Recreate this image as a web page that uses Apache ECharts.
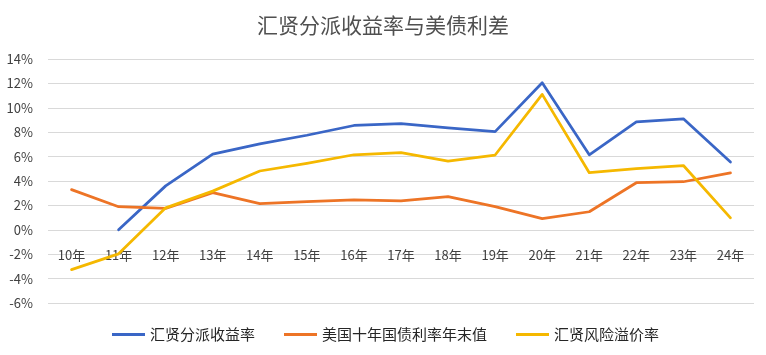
<!DOCTYPE html>
<html><head><meta charset="utf-8">
<script src="https://cdn.jsdelivr.net/npm/echarts@6/dist/echarts.min.js"></script>
<style>html,body{margin:0;padding:0;background:#fff}#c{width:766px;height:355px}</style>
</head><body><div id="c"></div>
<script>
const titleText = '汇贤分派收益率与美债利差';
const categories = ['10年','11年','12年','13年','14年','15年','16年','17年','18年','19年','20年','21年','22年','23年','24年'];
const seriesNames = ['汇贤分派收益率','美国十年国债利率年末值','汇贤风险溢价率'];
const yieldRate = [null, 0.0, 3.6, 6.2, 7.05, 7.75, 8.55, 8.7, 8.35, 8.05, 12.05, 6.15, 8.85, 9.1, 5.55];
const treasury = [3.29, 1.89, 1.75, 3.04, 2.14, 2.3, 2.45, 2.38, 2.72, 1.9, 0.91, 1.48, 3.86, 3.94, 4.66];
const premium = [-3.26, -1.97, 1.8, 3.17, 4.82, 5.45, 6.15, 6.33, 5.63, 6.13, 11.1, 4.68, 5.01, 5.27, 0.98];
const yTicks = {min: -6, max: 14, interval: 2};

const colors = ['#3a66c6', '#ed7426', '#f5b800'];
const font = '"Noto Sans CJK SC", "Microsoft YaHei", sans-serif';
const chart = echarts.init(document.getElementById('c'));
const mk = (name, data, i) => ({
  name, type: 'line', data, symbol: 'none', connectNulls: false,
  lineStyle: {width: 2.75, color: colors[i], cap: 'round', join: 'round'},
  itemStyle: {color: colors[i]}
});
chart.setOption({
  animation: false,
  textStyle: {fontFamily: font},
  title: {text: titleText, left: 'center', top: 10,
    textStyle: {fontSize: 21, fontWeight: 'normal', color: '#505050', fontFamily: font}},
  grid: {left: 48, right: 12, top: 59, bottom: 52, containLabel: false},
  legend: {bottom: 8, left: 107, icon: 'rect', itemWidth: 33, itemHeight: 3, itemGap: 29,
    textStyle: {fontSize: 15, color: '#262626', fontFamily: font},
    data: seriesNames},
  xAxis: {type: 'category', data: categories, boundaryGap: true, position: 'bottom', offset: -73,
    axisLine: {show: false, onZero: false},
    axisTick: {show: false},
    axisLabel: {fontSize: 13, color: '#404040', margin: 19, fontFamily: font}},
  yAxis: {type: 'value', min: yTicks.min, max: yTicks.max, interval: yTicks.interval,
    axisLine: {show: false}, axisTick: {show: false},
    splitLine: {lineStyle: {color: '#d9d9d9', width: 1}},
    axisLabel: {fontSize: 13, color: '#404040', margin: 15, formatter: v => v + '%', fontFamily: font}},
  series: [mk(seriesNames[0], yieldRate, 0), mk(seriesNames[1], treasury, 1), mk(seriesNames[2], premium, 2)]
});
</script></body></html>
